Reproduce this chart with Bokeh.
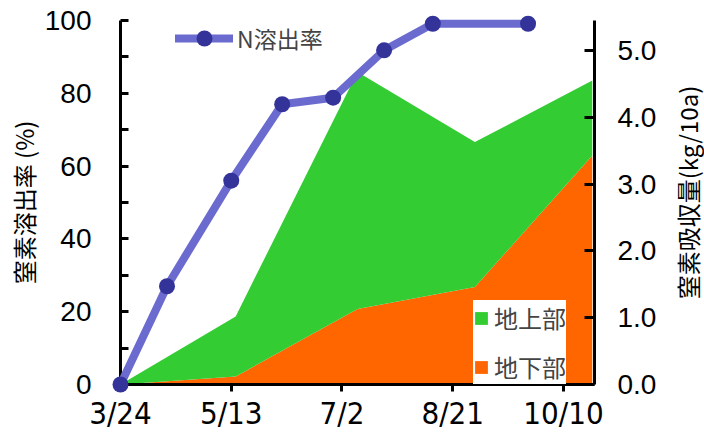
import math
import pandas as pd
from bokeh.plotting import figure
from bokeh.models import (Range1d, LinearAxis, FixedTicker, Legend, LegendItem,
                          ColumnDataSource, Label)
from bokeh.embed import file_html
from bokeh.resources import INLINE

# ---------------- data ----------------
year = "2021"
start_date = "3/24"

# N溶出率 (%)
rate_dates = ["3/24", "4/14", "5/13", "6/5", "6/28", "7/21", "8/12", "9/24"]
rate_values = [0.0, 27.0, 56.0, 77.0, 78.8, 91.8, 99.1, 99.1]

# 窒素吸収量 (kg/10a)
area_dates = ["3/24", "5/15", "7/9", "8/31", "10/23"]
below_values = [0.0, 0.12, 1.13, 1.46, 3.43]   # 地下部
above_values = [0.0, 0.90, 3.55, 2.17, 1.12]   # 地上部

x_tick_labels = ["3/24", "5/13", "7/2", "8/21", "10/10"]
x_end_date = "10/24"
left_ticks = [0, 20, 40, 60, 80, 100]
left_minor = [10, 30, 50, 70, 90]
right_ticks = [0, 1, 2, 3, 4, 5]
right_tick_labels = ["0.0", "1.0", "2.0", "3.0", "4.0", "5.0"]
right_title = "窒素吸収量(kg/10a)"

# --------------------------------------
t0 = pd.to_datetime(f"{year}/{start_date}")
def days(ds):
    return [(pd.to_datetime(f"{year}/{d}") - t0).days for d in ds]

rate_x = days(rate_dates)
area_x = days(area_dates)
tick_x = days(x_tick_labels)
x_end = days([x_end_date])[0]
total_values = [b + a for b, a in zip(below_values, above_values)]

p = figure(width=704, height=433, output_backend="svg", toolbar_location=None,
           x_range=Range1d(0, x_end), y_range=Range1d(0, 100),
           min_border_left=120, min_border_right=110, min_border_top=20,
           min_border_bottom=49)
p.extra_y_ranges = {"kg": Range1d(0, 5.45)}
p.outline_line_color = None
p.xgrid.visible = False
p.ygrid.visible = False

area_src = ColumnDataSource(dict(x=area_x, below=below_values, total=total_values))
orange = p.varea(x="x", y1=0, y2="below", source=area_src, fill_color="#ff6600",
                 y_range_name="kg")
green = p.varea(x="x", y1="below", y2="total", source=area_src, fill_color="#33cc33",
                y_range_name="kg")

rate_src = ColumnDataSource(dict(x=rate_x, y=rate_values))
line_r = p.line(x="x", y="y", source=rate_src, line_width=8, line_color="#6b6bcf",
                line_cap="round", line_join="round", level="overlay")
scat_r = p.scatter(x="x", y="y", source=rate_src, size=16, fill_color="#333399",
                   line_color=None, level="overlay")

tick_font = "Liberation Sans"

# x axis
xa = p.xaxis[0]
xa.ticker = FixedTicker(ticks=tick_x)
xa.major_label_overrides = {t: l for t, l in zip(tick_x, x_tick_labels)}
xa.major_tick_in = 0
xa.major_tick_out = 7
xa.major_label_standoff = 3
xa.major_label_text_font = "'Liberation Sans Narrow', 'DejaVu Sans Condensed', sans-serif"
xa.major_label_text_font_size = "31px"

# left axis
ya = p.yaxis[0]
ya.ticker = FixedTicker(ticks=left_ticks, minor_ticks=left_minor)
ya.major_tick_in = 8
ya.major_tick_out = 0
ya.minor_tick_in = 8
ya.minor_tick_out = 0
ya.minor_tick_line_width = 3
ya.minor_tick_line_color = "black"
ya.major_label_standoff = 29
ya.major_label_text_font = tick_font
ya.major_label_text_font_size = "28px"
ya.axis_label = "窒素溶出率 (%)"
ya.axis_label_standoff = 1

# right axis
ra = LinearAxis(y_range_name="kg")
ra.ticker = FixedTicker(ticks=right_ticks)
ra.major_label_overrides = {t: l for t, l in zip(right_ticks, right_tick_labels)}
ra.major_tick_in = 10
ra.major_tick_out = 0
ra.minor_tick_in = 0
ra.minor_tick_out = 0
ra.major_label_standoff = 23
ra.major_label_text_font = tick_font
ra.major_label_text_font_size = "28px"
p.add_layout(ra, "right")

for ax in [xa, ya, ra]:
    ax.axis_line_width = 3
    ax.axis_line_color = "black"
    ax.major_tick_line_width = 3
    ax.major_tick_line_color = "black"
    ax.major_label_text_color = "black"
    ax.axis_label_text_font = "Noto Sans CJK JP"
    ax.axis_label_text_font_size = "24px"
    ax.axis_label_text_font_style = "normal"
    ax.axis_label_text_color = "black"

# right-hand title (reads bottom-to-top), placed in the right side panel
rt = Label(x=28, y=192, x_units="screen", y_units="screen", text=right_title,
           angle=math.pi / 2, text_align="center", text_baseline="middle",
           text_font="Noto Sans CJK JP", text_font_size="24px", text_color="black")
p.add_layout(rt, "right")

leg1 = Legend(items=[LegendItem(label="N溶出率", renderers=[line_r, scat_r])],
              location=(55, 326), padding=0, margin=0, spacing=0,
              glyph_width=58, glyph_height=40, label_standoff=4,
              label_text_font="Noto Sans CJK JP", label_text_font_size="23px",
              border_line_color=None, background_fill_alpha=0)
p.add_layout(leg1, "center")

leg2 = Legend(items=[LegendItem(label="地上部", renderers=[green]),
                     LegendItem(label="地下部", renderers=[orange])],
              location=(353, 0), padding=9, margin=0, spacing=14,
              glyph_width=16, glyph_height=16, label_standoff=5,
              label_text_font="Noto Sans CJK JP", label_text_font_size="24px",
              border_line_color=None, background_fill_color="white",
              background_fill_alpha=1)
p.add_layout(leg2, "center")

open("out.html", "w").write(file_html(p, INLINE))
